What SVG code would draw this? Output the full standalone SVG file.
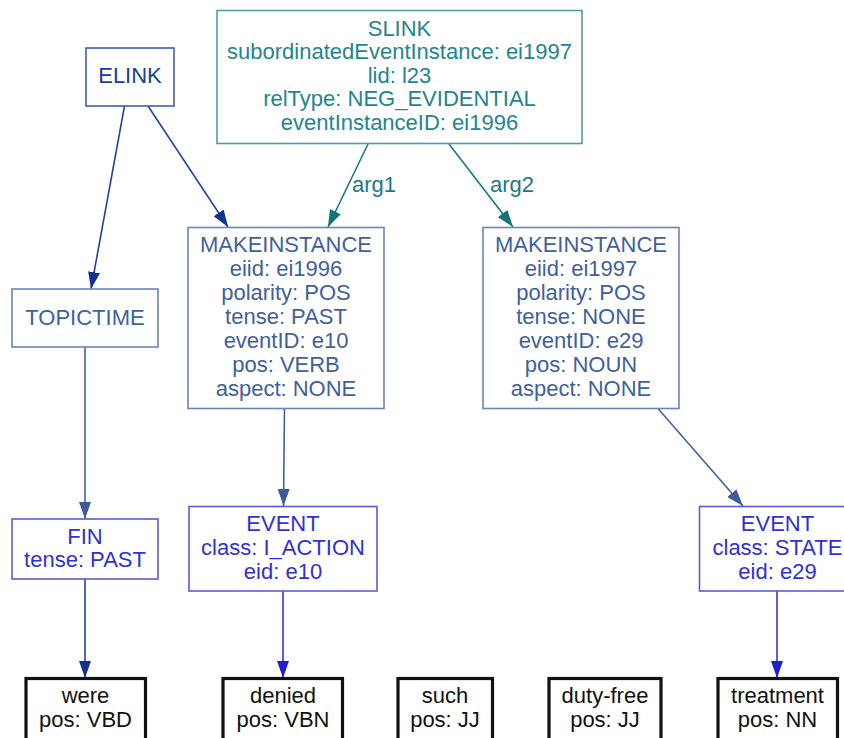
<svg xmlns="http://www.w3.org/2000/svg" width="844" height="738" viewBox="0 0 844 738">
<defs>
<style>
text{font-family:"Liberation Sans",Arial,sans-serif;font-size:22px;text-anchor:middle}
rect{fill:#fff}
.slink rect{stroke:#4a9ea8;stroke-width:1.6}
.slink text{fill:#23858f}
.mi rect{stroke:#6b85b8;stroke-width:1.6}
.mi text{fill:#41609e}
.elink rect{stroke:#3f5db5;stroke-width:1.6}
.elink text{fill:#1c3c9c}
.ev rect{stroke:#5a5ae0;stroke-width:1.6}
.ev text{fill:#3030d8}
.tok rect{stroke:#111;stroke-width:3.2}
.tok text{fill:#111}
.e{fill:none;stroke-width:1.6}
.navy{stroke:#25449f}
.teal{stroke:#1a7a84}
.steel{stroke:#44619d}
.blue{stroke:#3535d5}
.lbl{fill:#1a7a84;text-anchor:start}
</style>
<marker id="aNavy" markerUnits="userSpaceOnUse" markerWidth="17" markerHeight="12" refX="17" refY="6" orient="auto"><path d="M0,0 L17,6 L0,12 z" fill="#0e3391"/></marker>
<marker id="aTeal" markerUnits="userSpaceOnUse" markerWidth="17" markerHeight="12" refX="17" refY="6" orient="auto"><path d="M0,0 L17,6 L0,12 z" fill="#13737d"/></marker>
<marker id="aSteel" markerUnits="userSpaceOnUse" markerWidth="17" markerHeight="12" refX="17" refY="6" orient="auto"><path d="M0,0 L17,6 L0,12 z" fill="#3d5b98"/></marker>
<marker id="aBlue" markerUnits="userSpaceOnUse" markerWidth="17" markerHeight="12" refX="17" refY="6" orient="auto"><path d="M0,0 L17,6 L0,12 z" fill="#2020d0"/></marker>
</defs>
<rect x="0" y="0" width="844" height="738" style="fill:#fff;stroke:none"/>
<g id="edges">
<path class="e navy" d="M124.5,106 L91,289" marker-end="url(#aNavy)"/>
<path class="e navy" d="M148,106 L228,227" marker-end="url(#aNavy)"/>
<path class="e teal" d="M368,144 L328,227" marker-end="url(#aTeal)"/>
<text class="lbl" x="352" y="192">arg1</text>
<path class="e teal" d="M449,144 L513,227" marker-end="url(#aTeal)"/>
<text class="lbl" x="490" y="192">arg2</text>
<path class="e steel" d="M85,347 L85,519" marker-end="url(#aSteel)"/>
<path class="e steel" d="M284.5,408 L283.5,506" marker-end="url(#aSteel)"/>
<path class="e steel" d="M657.5,408 L743,506" marker-end="url(#aSteel)"/>
<path class="e navy" d="M85,579 L85,678" marker-end="url(#aNavy)"/>
<path class="e blue" d="M283,591 L283,678" marker-end="url(#aBlue)"/>
<path class="e blue" d="M777,591 L777,678" marker-end="url(#aBlue)"/>
</g>
<g id="slink" class="slink">
<rect x="217" y="10.5" width="365" height="133"/>
<text x="399.5" y="35.5">SLINK</text>
<text x="399.5" y="59">subordinatedEventInstance: ei1997</text>
<text x="399.5" y="82.5">lid: l23</text>
<text x="399.5" y="106">relType: NEG_EVIDENTIAL</text>
<text x="399.5" y="129.5">eventInstanceID: ei1996</text>
</g>
<g id="elink" class="elink">
<rect x="86" y="48" width="88" height="58"/>
<text x="130" y="83">ELINK</text>
</g>
<g id="topictime" class="mi">
<rect x="12" y="289" width="146" height="58"/>
<text x="85" y="324.5">TOPICTIME</text>
</g>
<g id="makeinstance1" class="mi">
<rect x="188" y="227.5" width="196" height="181"/>
<text x="286" y="252">MAKEINSTANCE</text>
<text x="286" y="276">eiid: ei1996</text>
<text x="286" y="300">polarity: POS</text>
<text x="286" y="324">tense: PAST</text>
<text x="286" y="348">eventID: e10</text>
<text x="286" y="372">pos: VERB</text>
<text x="286" y="396">aspect: NONE</text>
</g>
<g id="makeinstance2" class="mi">
<rect x="483" y="227.5" width="196" height="181"/>
<text x="581" y="252">MAKEINSTANCE</text>
<text x="581" y="276">eiid: ei1997</text>
<text x="581" y="300">polarity: POS</text>
<text x="581" y="324">tense: NONE</text>
<text x="581" y="348">eventID: e29</text>
<text x="581" y="372">pos: NOUN</text>
<text x="581" y="396">aspect: NONE</text>
</g>
<g id="fin" class="ev">
<rect x="12" y="519" width="146" height="60"/>
<text x="85" y="543.5">FIN</text>
<text x="85" y="567">tense: PAST</text>
</g>
<g id="event1" class="ev">
<rect x="189" y="506.5" width="188" height="84.5"/>
<text x="283" y="531">EVENT</text>
<text x="283" y="555">class: I_ACTION</text>
<text x="283" y="579">eid: e10</text>
</g>
<g id="event2" class="ev">
<rect x="699.5" y="506.5" width="156" height="84.5"/>
<text x="777.5" y="531">EVENT</text>
<text x="777.5" y="555">class: STATE</text>
<text x="777.5" y="579">eid: e29</text>
</g>
<g id="tok-were" class="tok">
<rect x="26" y="678.5" width="119.5" height="64"/>
<text x="85.5" y="702.5">were</text>
<text x="85.5" y="727">pos: VBD</text>
</g>
<g id="tok-denied" class="tok">
<rect x="223" y="678.5" width="119.5" height="64"/>
<text x="283" y="702.5">denied</text>
<text x="283" y="727">pos: VBN</text>
</g>
<g id="tok-such" class="tok">
<rect x="398" y="678.5" width="94.5" height="64"/>
<text x="445" y="702.5">such</text>
<text x="445" y="727">pos: JJ</text>
</g>
<g id="tok-dutyfree" class="tok">
<rect x="549" y="678.5" width="112" height="64"/>
<text x="605" y="702.5">duty-free</text>
<text x="605" y="727">pos: JJ</text>
</g>
<g id="tok-treatment" class="tok">
<rect x="718" y="678.5" width="119.5" height="64"/>
<text x="777.5" y="702.5">treatment</text>
<text x="777.5" y="727">pos: NN</text>
</g>
</svg>
